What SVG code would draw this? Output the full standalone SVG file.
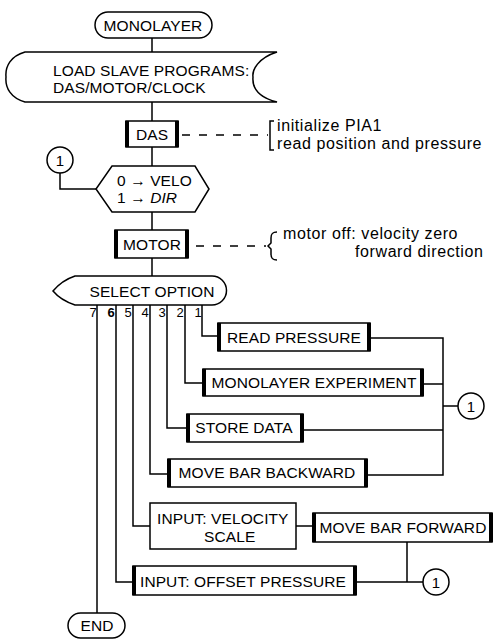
<svg xmlns="http://www.w3.org/2000/svg" width="499" height="640" viewBox="0 0 499 640">
<style>
.t{font-family:"Liberation Sans",Arial,sans-serif;font-size:15.5px;fill:#000;letter-spacing:0.1px}
.m{text-anchor:middle}
.a{font-family:"Liberation Sans",Arial,sans-serif;font-size:16px;fill:#000;letter-spacing:0.6px}
.n{font-family:"Liberation Sans",Arial,sans-serif;font-size:13px;fill:#000;text-anchor:middle}
.c{font-family:"Liberation Sans",Arial,sans-serif;font-size:15px;fill:#000;text-anchor:middle}
.ln{stroke:#000;stroke-width:1.5;fill:none}
.dash{stroke:#000;stroke-width:1.5;fill:none;stroke-dasharray:8 9}
.box{fill:#fff;stroke:#000;stroke-width:1.5}
.thk{stroke:#000;stroke-width:4}
</style>
<rect width="499" height="640" fill="#fff"/>
<g id="connectors">
<path class="ln" d="M152 38V52M152 102V121M152 147V166M152 212V230M152 258V276"/>
<path class="ln" d="M60 173V189H96"/>
<path class="dash" d="M182 135H268"/>
<path class="dash" d="M196 246H266"/>
<path class="ln" d="M202 305V336H218"/>
<path class="ln" d="M185 305V383H203"/>
<path class="ln" d="M167 305V428H187"/>
<path class="ln" d="M150 305V474H168"/>
<path class="ln" d="M133 305V526H150"/>
<path class="ln" d="M116 305V582H133"/>
<path class="ln" d="M97 305V613"/>
<path class="ln" d="M370 338H443V475H367M423 384H443M303 430H443M443 406H458"/>
<path class="ln" d="M296 526H313"/>
<path class="ln" d="M407 542V582M356 582H423"/>
</g>
<g id="monolayer">
<rect class="box" x="95" y="12" width="117" height="26" rx="13"/>
<text class="t m" x="153" y="31">MONOLAYER</text>
</g>
<g id="load">
<path class="box" d="M25 52H277C258 58 252 70 253 77C252 88 258 97 277 102H25C11 98 5 88 6 77C5 66 11 56 25 52Z"/>
<text class="t" x="53" y="76">LOAD SLAVE PROGRAMS:</text>
<text class="t" x="53" y="93">DAS/MOTOR/CLOCK</text>
</g>
<g id="das">
<rect class="box" x="126" y="121" width="52" height="26"/>
<path class="thk" d="M127 121V147M177 121V147"/>
<text class="t m" x="152" y="140">DAS</text>
</g>
<g id="das-note">
<path class="ln" d="M274 121H270V150H274"/>
<text class="a" x="277" y="131">initialize PIA1</text>
<text class="a" x="277" y="149">read position and pressure</text>
</g>
<g id="conn1a">
<circle class="box" cx="60" cy="160" r="13"/>
<text class="c" x="60" y="165.5">1</text>
</g>
<g id="init">
<path class="box" d="M112 166H195L209 189L195 212H112L96 189Z"/>
<text class="t" x="117" y="186">0 → VELO</text>
<text class="t" x="117" y="203">1 → <tspan font-style="italic">DIR</tspan></text>
</g>
<g id="motor">
<rect class="box" x="115" y="230" width="73" height="28"/>
<path class="thk" d="M116 230V258M187 230V258"/>
<text class="t m" x="152" y="250">MOTOR</text>
</g>
<g id="motor-note">
<path class="ln" d="M277 232C272 232 271 234 271 238V243L268 246L271 249V254C271 258 272 260 277 260"/>
<text class="a" x="283" y="239">motor off: velocity zero</text>
<text class="a" x="355" y="257">forward direction</text>
</g>
<g id="select">
<path class="box" d="M75 276H212A14.5 14.5 0 0 1 212 305H75C66 302 58 297 53 291C58 285 66 279 75 276Z"/>
<text class="t m" x="152" y="297">SELECT OPTION</text>
<text class="n" x="93" y="317">7</text>
<text class="n" x="111" y="317" font-weight="bold">6</text>
<text class="n" x="128" y="317">5</text>
<text class="n" x="145" y="317">4</text>
<text class="n" x="162" y="317">3</text>
<text class="n" x="180" y="317">2</text>
<text class="n" x="198" y="317">1</text>
</g>
<g id="read-pressure">
<rect class="box" x="218" y="323" width="152" height="28"/>
<path class="thk" d="M219 323V351M369 323V351"/>
<text class="t m" x="294" y="343">READ PRESSURE</text>
</g>
<g id="monolayer-experiment">
<rect class="box" x="203" y="369" width="220" height="27"/>
<path class="thk" d="M204 369V396M422 369V396"/>
<text class="t m" x="314" y="388">MONOLAYER EXPERIMENT</text>
</g>
<g id="store-data">
<rect class="box" x="187" y="414" width="116" height="28"/>
<path class="thk" d="M188 414V442M302 414V442"/>
<text class="t m" x="244" y="433">STORE DATA</text>
</g>
<g id="move-backward">
<rect class="box" x="168" y="459" width="199" height="28"/>
<path class="thk" d="M169 459V487M366 459V487"/>
<text class="t m" x="267" y="478">MOVE BAR BACKWARD</text>
</g>
<g id="conn1b">
<circle class="box" cx="471" cy="406" r="13"/>
<text class="c" x="471" y="411.5">1</text>
</g>
<g id="input-velocity">
<rect class="box" x="150" y="503" width="146" height="46"/>
<text class="t" x="157" y="524">INPUT: VELOCITY</text>
<text class="t" x="204" y="542">SCALE</text>
</g>
<g id="move-forward">
<rect class="box" x="313" y="513" width="179" height="29"/>
<path class="thk" d="M314 513V542M491 513V542"/>
<text class="t m" x="403" y="533">MOVE BAR FORWARD</text>
</g>
<g id="input-offset">
<rect class="box" x="133" y="566" width="223" height="29"/>
<path class="thk" d="M134 566V595M355 566V595"/>
<text class="t m" x="243" y="587">INPUT: OFFSET PRESSURE</text>
</g>
<g id="conn1c">
<circle class="box" cx="436" cy="582" r="13"/>
<text class="c" x="436" y="587.5">1</text>
</g>
<g id="end">
<rect class="box" x="68" y="613" width="57" height="25" rx="12.5"/>
<text class="t m" x="97" y="631">END</text>
</g>
</svg>
